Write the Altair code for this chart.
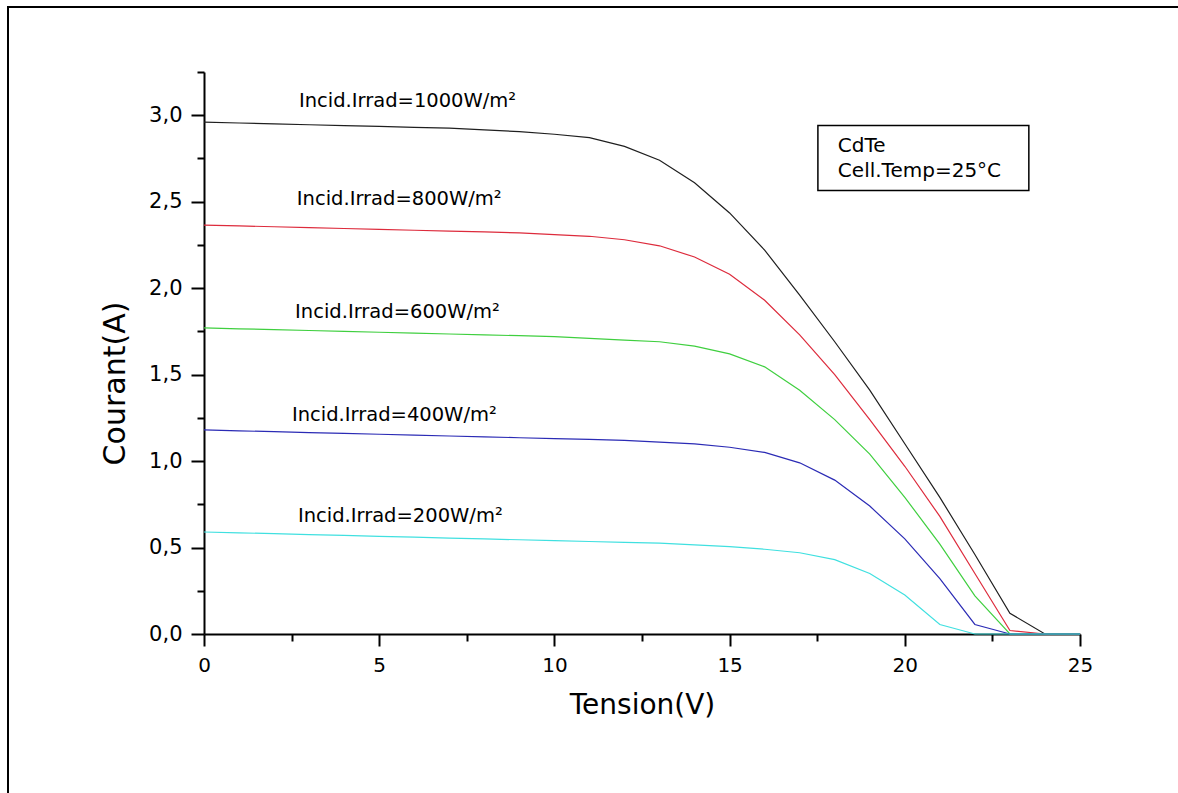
import altair as alt
import pandas as pd

# ---------------- data ----------------
voltage = list(range(26))

i_1000 = [2.96, 2.955, 2.95, 2.945, 2.94, 2.935, 2.93, 2.925, 2.915, 2.905, 2.89,
          2.87, 2.82, 2.74, 2.61, 2.435, 2.22, 1.96, 1.69, 1.41, 1.10, 0.79, 0.46,
          0.12, 0.0, 0.0]
i_800 = [2.365, 2.36, 2.355, 2.35, 2.345, 2.34, 2.335, 2.33, 2.325, 2.32, 2.31,
         2.30, 2.28, 2.245, 2.18, 2.08, 1.93, 1.73, 1.50, 1.24, 0.97, 0.68, 0.35,
         0.02, 0.0, 0.0]
i_600 = [1.77, 1.765, 1.76, 1.755, 1.75, 1.745, 1.74, 1.735, 1.73, 1.725, 1.72,
         1.71, 1.70, 1.69, 1.665, 1.62, 1.545, 1.41, 1.24, 1.04, 0.79, 0.52, 0.22,
         0.0, 0.0, 0.0]
i_400 = [1.18, 1.175, 1.17, 1.165, 1.16, 1.155, 1.15, 1.145, 1.14, 1.135, 1.13,
         1.125, 1.12, 1.11, 1.10, 1.08, 1.05, 0.99, 0.89, 0.74, 0.55, 0.32, 0.055,
         0.0, 0.0, 0.0]
i_200 = [0.59, 0.585, 0.58, 0.575, 0.57, 0.565, 0.56, 0.555, 0.55, 0.545, 0.54,
         0.535, 0.53, 0.525, 0.515, 0.505, 0.49, 0.47, 0.43, 0.35, 0.225, 0.055,
         0.0, 0.0, 0.0, 0.0]

series_names = ["1000", "800", "600", "400", "200"]
series_values = [i_1000, i_800, i_600, i_400, i_200]
series_colors = ["#1f1f1f", "#dd2b3c", "#3fcf3f", "#2b2bb5", "#40e0e0"]

label_texts = ["Incid.Irrad=1000W/m²", "Incid.Irrad=800W/m²", "Incid.Irrad=600W/m²",
               "Incid.Irrad=400W/m²", "Incid.Irrad=200W/m²"]
label_x = [2.71, 2.65, 2.60, 2.51, 2.68]
label_y = [3.046, 2.48, 1.83, 1.233, 0.648]

box_texts = ["CdTe", "Cell.Temp=25°C"]
box_text_x = [18.09, 18.09]
box_text_y = [2.785, 2.64]
box_x, box_x2, box_y, box_y2 = 17.52, 23.54, 2.94, 2.565

x_major = [0, 5, 10, 15, 20, 25]
x_minor = [2.5, 7.5, 12.5, 17.5, 22.5]
y_major = [0.0, 0.5, 1.0, 1.5, 2.0, 2.5, 3.0]
y_minor = [0.25, 0.75, 1.25, 1.75, 2.25, 2.75, 3.25]

# ---------------- tables ----------------
rows = []
for name, vals in zip(series_names, series_values):
    for v, i in zip(voltage, vals):
        rows.append({"V": v, "I": i, "series": name})
df = pd.DataFrame(rows)

labels_df = pd.DataFrame({"x": label_x, "y": label_y, "text": label_texts})
box_text_df = pd.DataFrame({"x": box_text_x, "y": box_text_y, "text": box_texts})
box_df = pd.DataFrame({"x": [box_x], "x2": [box_x2], "y": [box_y], "y2": [box_y2]})
dummy = pd.DataFrame({"a": [0]})

FONT = "DejaVu Sans"

xs = alt.Scale(domain=[0, 25], nice=False, zero=False)
ys = alt.Scale(domain=[0, 3.25], nice=False, zero=False)

x_axis = alt.Axis(
    title="Tension(V)", values=x_major, tickSize=12, tickWidth=2, tickColor="black",
    domainWidth=2, domainColor="black", grid=False,
    labelFont=FONT, labelFontSize=20, labelColor="black", labelPadding=9,
    labelFlush=False, labelOverlap=False,
    titleFont=FONT, titleFontSize=28, titleFontWeight="normal", titleColor="black",
    titleBaseline="alphabetic", titleAlign="center", titleX=438, titleY=79,
)
y_axis = alt.Axis(
    title="Courant(A)", values=y_major, tickSize=13, tickWidth=2, tickColor="black",
    domainWidth=2, domainColor="black", grid=False,
    labelExpr="replace(format(datum.value, '.1f'), '.', ',')",
    labelFont=FONT, labelFontSize=21, labelColor="black", labelPadding=9,
    labelFlush=False, labelOverlap=False,
    titleFont=FONT, titleFontSize=30, titleFontWeight="normal", titleColor="black",
    titleAngle=270, titleBaseline="alphabetic", titleAlign="center",
    titleX=-80, titleY=311,
)

lines = alt.Chart(df).mark_line(strokeWidth=1.2).encode(
    x=alt.X("V:Q", scale=xs, axis=x_axis),
    y=alt.Y("I:Q", scale=ys, axis=y_axis),
    color=alt.Color("series:N", scale=alt.Scale(domain=series_names, range=series_colors),
                    legend=None),
    detail="series:N",
)

labels = alt.Chart(labels_df).mark_text(
    align="left", baseline="alphabetic", font=FONT, fontSize=19.5, color="black"
).encode(
    x=alt.X("x:Q", scale=xs, axis=x_axis),
    y=alt.Y("y:Q", scale=ys, axis=y_axis),
    text="text:N",
)

box = alt.Chart(box_df).mark_rect(fill="white", stroke="black", strokeWidth=1.5).encode(
    x=alt.X("x:Q", scale=xs, axis=x_axis),
    x2="x2:Q",
    y=alt.Y("y:Q", scale=ys, axis=y_axis),
    y2="y2:Q",
)

box_text = alt.Chart(box_text_df).mark_text(
    align="left", baseline="alphabetic", font=FONT, fontSize=20, color="black"
).encode(
    x=alt.X("x:Q", scale=xs, axis=x_axis),
    y=alt.Y("y:Q", scale=ys, axis=y_axis),
    text="text:N",
)

frame_top = alt.Chart(dummy).mark_rule(color="black", strokeWidth=2).encode(
    x=alt.value(-197), x2=alt.value(974), y=alt.value(-65)
)
frame_left = alt.Chart(dummy).mark_rule(color="black", strokeWidth=2).encode(
    x=alt.value(-196), y=alt.value(-65), y2=alt.value(721)
)

main = alt.layer(box, lines, labels, box_text, frame_top, frame_left)

minor = alt.Chart(df).mark_line(opacity=0).encode(
    x=alt.X("V:Q", scale=xs, axis=alt.Axis(
        values=x_minor, tickSize=7, tickWidth=2, tickColor="black", labels=False,
        domain=False, grid=False, title=None, orient="bottom")),
    y=alt.Y("I:Q", scale=ys, axis=alt.Axis(
        values=y_minor, tickSize=7, tickWidth=2, tickColor="black", labels=False,
        domain=False, grid=False, title=None, orient="left")),
    detail="series:N",
)

chart = (
    alt.layer(main, minor)
    .resolve_scale(x="independent", y="independent")
    .properties(
        width=876, height=562,
        padding={"left": 204, "top": 72, "right": 98, "bottom": 159},
        autosize=alt.AutoSizeParams(type="none"),
        background="white",
    )
    .configure_view(stroke=None)
)

chart.save("out.html", embed_options={"renderer": "svg", "actions": False})
